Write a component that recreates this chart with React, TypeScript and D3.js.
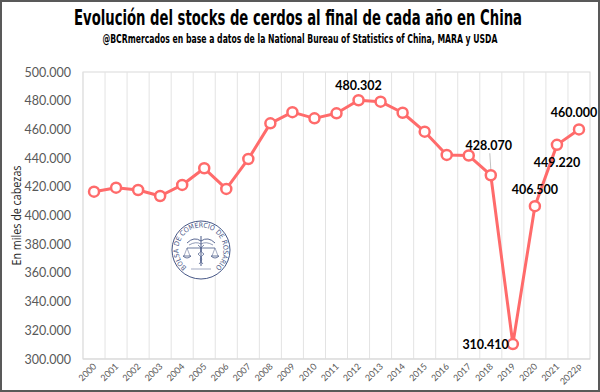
import React from "react";
import * as d3 from "d3";

const years = ["2000","2001","2002","2003","2004","2005","2006","2007","2008","2009","2010","2011","2012","2013","2014","2015","2016","2017","2018","2019","2020","2021","2022p"];
const stocks = [416.6,419.4,417.8,413.6,421.3,432.9,418.5,439.4,464.2,472.0,467.7,471.2,480.302,479.3,471.6,458.4,442.2,441.8,428.07,310.41,406.5,449.22,460.0];
const yTicks = [300,320,340,360,380,400,420,440,460,480,500];
const labelled = ["2012","2018","2019","2020","2021","2022p"];
const title = "Evolución del stocks de cerdos al final de cada año en China";
const subtitle = "@BCRmercados en base a datos de la National Bureau of Statistics of China, MARA y USDA";
const yTitle = "En miles de cabezas";
const logoText = "BOLSA DE COMERCIO DE ROSARIO";

const W = 600, H = 392;
const M = { left: 83, right: 590, top: 72, bottom: 359 };

export default function App() {
  const x = d3.scaleBand<string>().domain(years).range([M.left, M.right]);
  const y = d3.scaleLinear().domain([300, 500]).range([M.bottom, M.top]);
  const cx = (i: number) => (x(years[i]) as number) + x.bandwidth() / 2;
  const line = d3.line<number>().x((_, i) => cx(i)).y((d) => y(d));
  const col = "#FF6B6B";
  const fmtVal = (v: number) => d3.format(".3f")(v);
  const fmtTick = (v: number) => `${v}.000`;

  const labelPos: Record<string, { dx: number; dy: number; anchor: string }> = {
    "2012": { dx: 0, dy: -14, anchor: "middle" },
    "2018": { dx: -2, dy: -29, anchor: "middle" },
    "2019": { dx: -4, dy: 1, anchor: "end" },
    "2020": { dx: 0, dy: -16, anchor: "middle" },
    "2021": { dx: 0, dy: 18, anchor: "middle" },
    "2022p": { dx: -5, dy: -16, anchor: "middle" },
  };

  const L = { x: 201, y: 250, r: 29 };
  const R = L.r - 6.5;
  const a0 = (-150 * Math.PI) / 180, a1 = (150 * Math.PI) / 180;
  const arcD = `M ${L.x + R * Math.sin(a0)},${L.y - R * Math.cos(a0)} A ${R} ${R} 0 1 1 ${L.x + R * Math.sin(a1)},${L.y - R * Math.cos(a1)}`;
  const lc = "#34467A";

  return (
    <svg width={W} height={H} style={{ position: "absolute", left: 0, top: 0, background: "#fff" }}
      fontFamily="Lato, 'Open Sans', sans-serif">
      <rect x={0} y={0} width={W} height={H} fill="#fff" />
      <text x={298} y={25} textAnchor="middle" fontFamily="'Liberation Sans Narrow', 'DejaVu Sans Condensed', sans-serif"
        fontWeight="bold" fontSize={21} textLength={448} lengthAdjust="spacingAndGlyphs" fill="#000">{title}</text>
      <text x={300} y={43} textAnchor="middle" fontFamily="'Liberation Sans Narrow', 'DejaVu Sans Condensed', sans-serif"
        fontWeight="bold" fontSize={12} textLength={395} lengthAdjust="spacingAndGlyphs" fill="#000">{subtitle}</text>

      <rect x={M.left} y={M.top} width={M.right - M.left} height={M.bottom - M.top} fill="none" stroke="#D9D9D9" strokeWidth={1} />
      {years.map((yr) => (
        <line key={"g" + yr} x1={x(yr) as number} x2={x(yr) as number} y1={M.top} y2={M.bottom} stroke="#E3E3E3" strokeWidth={1} />
      ))}
      <line x1={M.left} x2={M.right} y1={M.bottom} y2={M.bottom} stroke="#D9D9D9" strokeWidth={1} />

      <g stroke={lc} fill="none" opacity={0.9}>
        <defs>
          <path id="logoArc" d={arcD} />
        </defs>
        <circle cx={L.x} cy={L.y} r={L.r} strokeWidth={1} fill="#fff" />
        <text fontSize={7} fill={lc} stroke="none" fontFamily="'DejaVu Sans Condensed', sans-serif">
          <textPath href="#logoArc" startOffset="50%" textAnchor="middle">{logoText}</textPath>
        </text>
        <path d={`M ${L.x - 14},${L.y - 7} Q ${L.x - 7},${L.y - 14} ${L.x},${L.y - 9} Q ${L.x + 7},${L.y - 14} ${L.x + 14},${L.y - 7}`} strokeWidth={0.9} />
        <path d={`M ${L.x - 12},${L.y - 5} Q ${L.x - 5},${L.y - 9} ${L.x},${L.y - 6} Q ${L.x + 5},${L.y - 9} ${L.x + 12},${L.y - 5}`} strokeWidth={0.6} />
        <line x1={L.x} x2={L.x} y1={L.y - 14} y2={L.y + 16} strokeWidth={1} />
        <line x1={L.x - 14} x2={L.x + 14} y1={L.y - 2} y2={L.y - 2} strokeWidth={0.8} />
        <line x1={L.x - 14} x2={L.x - 17} y1={L.y - 2} y2={L.y + 6} strokeWidth={0.5} />
        <line x1={L.x - 14} x2={L.x - 11} y1={L.y - 2} y2={L.y + 6} strokeWidth={0.5} />
        <line x1={L.x + 14} x2={L.x + 11} y1={L.y - 2} y2={L.y + 6} strokeWidth={0.5} />
        <line x1={L.x + 14} x2={L.x + 17} y1={L.y - 2} y2={L.y + 6} strokeWidth={0.5} />
        <path d={`M ${L.x - 18},${L.y + 6} Q ${L.x - 14},${L.y + 10} ${L.x - 10},${L.y + 6} Z`} strokeWidth={0.8} />
        <path d={`M ${L.x + 10},${L.y + 6} Q ${L.x + 14},${L.y + 10} ${L.x + 18},${L.y + 6} Z`} strokeWidth={0.8} />
        <path d={`M ${L.x - 3},${L.y - 5} Q ${L.x + 4},${L.y} ${L.x - 3},${L.y + 4} Q ${L.x + 4},${L.y + 9} ${L.x - 2},${L.y + 14}`} strokeWidth={0.7} />
        <path d={`M ${L.x + 3},${L.y - 5} Q ${L.x - 4},${L.y} ${L.x + 3},${L.y + 4} Q ${L.x - 4},${L.y + 9} ${L.x + 2},${L.y + 14}`} strokeWidth={0.7} />
        <line x1={L.x - 10} x2={L.x + 10} y1={L.y + 19} y2={L.y + 19} strokeWidth={0.5} />
      </g>

      {yTicks.map((t) => (
        <text key={"y" + t} x={71} y={y(t) + 4.5} textAnchor="end" fontSize={12.5} fill="#595959">{fmtTick(t)}</text>
      ))}
      <text transform={`translate(21,${(M.top + M.bottom) / 2}) rotate(-90)`} textAnchor="middle" fontSize={12.5} fill="#262626"
        fontFamily="'Open Sans', Lato, sans-serif" textLength={100} lengthAdjust="spacingAndGlyphs">{yTitle}</text>

      {years.map((yr, i) => (
        <text key={"x" + yr} transform={`translate(${cx(i) + 3},${M.bottom + 8}) rotate(-45)`} textAnchor="end" fontSize={9} fill="#595959">{yr}</text>
      ))}

      <path d={line(stocks) as string} fill="none" stroke={col} strokeWidth={3} strokeLinejoin="round" />
      <line x1={cx(18) - 1} x2={cx(18)} y1={y(stocks[18]) - 22} y2={y(stocks[18]) - 6} stroke="#A6A6A6" strokeWidth={0.7} />
      {stocks.map((v, i) => (
        <circle key={"p" + i} cx={cx(i)} cy={y(v)} r={5} fill="#fff" stroke={col} strokeWidth={2.5} />
      ))}
      {stocks.map((v, i) => {
        const yr = years[i];
        if (!labelled.includes(yr)) return null;
        const p = labelPos[yr];
        return (
          <text key={"l" + yr} x={cx(i) + p.dx} y={y(v) + p.dy + 4} textAnchor={p.anchor as any} fontSize={12.5} fontWeight="bold" fill="#000">
            {fmtVal(v)}
          </text>
        );
      })}

      <rect x={1} y={1} width={W - 2} height={H - 2} fill="none" stroke="#595959" strokeWidth={2} />
    </svg>
  );
}
